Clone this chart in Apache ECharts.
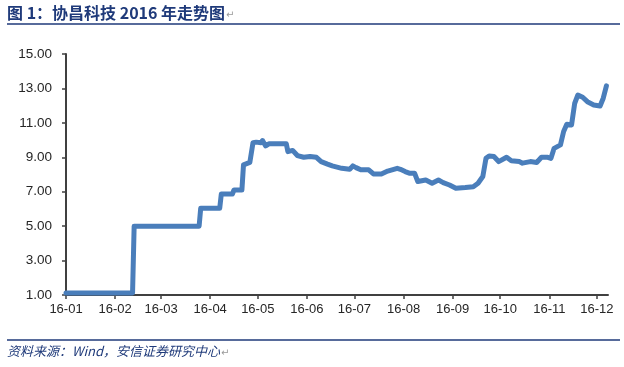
<!DOCTYPE html>
<html>
<head>
<meta charset="utf-8">
<script src="https://cdn.jsdelivr.net/npm/echarts@6/dist/echarts.min.js"></script>
<style>html,body{margin:0;padding:0;background:#fff}#c{width:624px;height:367px}</style>
</head>
<body>
<div id="c"></div>
<script>
const titleText = '图 1：协昌科技 2016 年走势图';
const sourceText = '资料来源：Wind，安信证券研究中心';
const dates = [
 '2016-01-01','2016-02-12','2016-02-13','2016-03-25','2016-03-26','2016-04-07','2016-04-08','2016-04-15',
 '2016-04-16','2016-04-21','2016-04-22','2016-04-26','2016-04-28','2016-04-30','2016-05-03','2016-05-04',
 '2016-05-06','2016-05-08','2016-05-19','2016-05-20','2016-05-23','2016-05-26','2016-05-30','2016-06-03',
 '2016-06-07','2016-06-10','2016-06-14','2016-06-17','2016-06-23','2016-06-28','2016-06-30','2016-07-02',
 '2016-07-05','2016-07-10','2016-07-13','2016-07-18','2016-07-22','2016-07-28','2016-07-30','2016-08-02',
 '2016-08-05','2016-08-08','2016-08-10','2016-08-15','2016-08-19','2016-08-23','2016-08-26','2016-08-30',
 '2016-09-03','2016-09-09','2016-09-14','2016-09-17','2016-09-20','2016-09-22','2016-09-24','2016-09-27',
 '2016-09-30','2016-10-05','2016-10-08','2016-10-13','2016-10-15','2016-10-20','2016-10-24','2016-10-27',
 '2016-10-31','2016-11-02','2016-11-04','2016-11-08','2016-11-10','2016-11-12','2016-11-15','2016-11-17',
 '2016-11-19','2016-11-22','2016-11-25','2016-11-29','2016-12-03','2016-12-05','2016-12-07'
];
const prices = [
 1.12,1.12,5.0,5.0,6.04,6.04,6.87,6.87,
 7.1,7.1,8.56,8.7,9.85,9.88,9.85,9.97,
 9.66,9.78,9.78,9.33,9.4,9.1,9.0,9.05,
 9.0,8.75,8.6,8.5,8.36,8.3,8.5,8.4,
 8.27,8.27,8.03,8.03,8.2,8.36,8.3,8.17,
 8.07,8.07,7.59,7.68,7.49,7.68,7.53,7.39,
 7.2,7.24,7.29,7.49,7.88,8.94,9.08,9.04,
 8.75,9.0,8.8,8.75,8.66,8.75,8.7,9.0,
 9.0,8.94,9.52,9.72,10.5,10.92,10.88,12.14,
 12.62,12.49,12.23,12.04,11.98,12.43,13.15
];
const xMin = '2016-01-01';
const xMax = '2016-12-08';
const yMin = 1, yMax = 15, yStep = 2;

const chart = echarts.init(document.getElementById('c'), null, {renderer: 'canvas'});
const navy = '#1f3a7a';
const DAY = 86400000;
chart.setOption({
  animation: false,
  backgroundColor: '#ffffff',
  grid: {left: 66, right: 16, top: 54, bottom: 72, containLabel: false},
  xAxis: {
    type: 'time',
    min: xMin, max: xMax,
    minInterval: 28 * DAY, maxInterval: 31 * DAY,
    splitLine: {show: false},
    axisLine: {lineStyle: {color: '#404040', width: 2}},
    axisTick: {show: true, length: 4, lineStyle: {color: '#404040', width: 1.5}},
    axisLabel: {
      showMaxLabel: false,
      color: '#262626', fontFamily: 'Liberation Sans, Arial, sans-serif', fontSize: 13, margin: 8,
      formatter: function (v) {
        const d = new Date(v);
        const m = d.getMonth() + 1;
        return String(d.getFullYear()).slice(2) + '-' + (m < 10 ? '0' + m : m);
      }
    }
  },
  yAxis: {
    type: 'value', min: yMin, max: yMax, interval: yStep,
    splitLine: {show: false},
    axisLine: {show: true, lineStyle: {color: '#404040', width: 2}},
    axisTick: {show: true, length: 4, lineStyle: {color: '#404040', width: 1.5}},
    axisLabel: {
      color: '#262626', fontFamily: 'Liberation Sans, Arial, sans-serif', fontSize: 13.5, margin: 14,
      formatter: function (v) { return v.toFixed(2); }
    }
  },
  series: [{
    type: 'line',
    data: dates.map((d, i) => [d, prices[i]]),
    showSymbol: false,
    smooth: false,
    lineStyle: {color: '#4a7ebb', width: 5, cap: 'round', join: 'round'}
  }],
  graphic: [
    {type: 'text', left: 7, top: 5, style: {
      text: '{t|' + titleText + '}{r|↵}',
      rich: {
        t: {fill: navy, font: 'bold 16px "Noto Sans CJK SC", sans-serif'},
        r: {fill: '#9a9a9a', font: '10px "DejaVu Sans", sans-serif', padding: [4, 0, 0, 1]}
      }
    }},
    {type: 'line', shape: {x1: 7, y1: 24, x2: 620, y2: 24}, style: {stroke: navy, lineWidth: 1.5}},
    {type: 'line', shape: {x1: 7, y1: 340, x2: 620, y2: 340}, style: {stroke: navy, lineWidth: 1.5}},
    {type: 'text', left: 7, top: 345, style: {
      text: '{t|' + sourceText + '}{r|↵}',
      rich: {
        t: {fill: navy, font: 'italic 13px "Noto Sans CJK SC", sans-serif'},
        r: {fill: '#9a9a9a', font: '10px "DejaVu Sans", sans-serif', padding: [3, 0, 0, 1]}
      }
    }}
  ]
});
</script>
</body>
</html>
